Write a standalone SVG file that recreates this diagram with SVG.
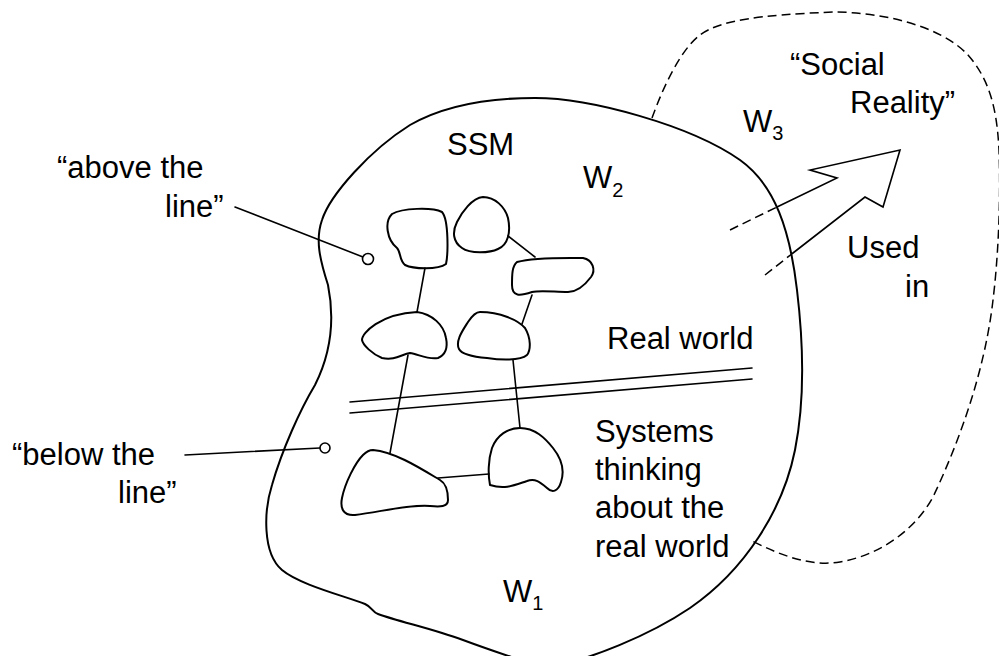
<svg xmlns="http://www.w3.org/2000/svg" width="999" height="656" viewBox="0 0 999 656">
<style>
.o{fill:none;stroke:#000;stroke-width:2;stroke-linejoin:round;stroke-linecap:round}
.c{fill:none;stroke:#000;stroke-width:1.6;stroke-linecap:round}
.d{fill:none;stroke:#000;stroke-width:1.5;stroke-dasharray:9 5}
.t{font-family:"Liberation Sans",Arial,sans-serif;font-size:31px;fill:#000}
.s{font-size:20px}
</style>
<rect width="999" height="656" fill="#fff"/>
<g id="social-reality">
<path class="d" d="M652,118 C662,90 680,50 700,35 C720,20 760,15 833,12 C880,12 940,25 968,55 C990,80 997,110 999,150 C1001,200 998,260 993,300 C985,370 960,440 933,497 C915,530 880,555 840,562 C810,567 780,555 750,540"/>
<text class="t" x="790" y="75">“Social</text>
<text class="t" x="850" y="113">Reality”</text>
<text class="t" x="743" y="132">W<tspan class="s" dy="8">3</tspan></text>
</g>
<g id="ssm">
<path class="o" d="M535,98 C590,98 690,125 740,160 C775,185 790,230 797,290 C803,340 805,400 795,450 C783,510 745,570 690,608 C650,635 590,660 545,668 C520,660 490,650 463,640 C430,628 400,622 378,614 C372,612 372,607 365,604 C345,596 300,585 282,570 C262,553 264,510 272,485 C282,450 300,410 315,385 C330,355 335,320 328,285 C320,260 315,240 322,220 C330,195 370,150 410,125 C445,105 490,98 535,98 Z"/>
<text class="t" x="447" y="155">SSM</text>
<text class="t" x="583" y="188">W<tspan class="s" dy="9">2</tspan></text>
<text class="t" x="503" y="602">W<tspan class="s" dy="8">1</tspan></text>
</g>
<g id="used-in">
<path class="c" d="M777,207 L837,178 L810,170 L900,150 L883,207 L865,197 L793,253" stroke-linejoin="miter"/>
<path class="d" stroke-dasharray="7 5" d="M730,230 L777,207 M765,275 L793,253"/>
<text class="t" x="847" y="258">Used</text>
<text class="t" x="905" y="297">in</text>
</g>
<g id="line-divider">
<path class="c" d="M350,402 L752,368 M350,413 L752,379"/>
<text class="t" x="607" y="349">Real world</text>
<text class="t" x="595" y="442">Systems</text>
<text class="t" x="595" y="480">thinking</text>
<text class="t" x="595" y="518">about the</text>
<text class="t" x="595" y="557">real world</text>
</g>
<g id="connectors">
<path class="c" d="M508,236 L535,257 M532,295 L522,324 M425,268 L417,312 M408,355 L390,453 M513,360 L520,428 M438,478 L489,474"/>
</g>
<g id="blob-a"><path class="o" d="M392,214 C402,208 432,207 442,212 C449,220 448,255 446,264 C438,270 413,269 405,265 C399,260 401,252 397,248 C387,240 384,222 392,214 Z"/></g>
<g id="blob-b"><path class="o" d="M457,222 C462,212 472,198 483,197 C495,197 505,207 508,218 C511,232 508,245 498,249 C490,253 470,254 462,248 C453,242 452,232 457,222 Z"/></g>
<g id="blob-c"><path class="o" d="M517,262 C535,257 570,258 583,258 C593,260 596,270 591,277 C585,285 578,292 568,292 C555,292 540,290 532,292 C520,296 512,297 512,285 C512,275 512,266 517,262 Z"/></g>
<g id="blob-e"><path class="o" d="M417,312 C432,314 444,325 446,338 C448,348 445,355 438,358 C428,360 418,354 410,353 C402,354 395,361 382,358 C372,354 363,345 362,340 C362,333 380,314 417,312 Z"/></g>
<g id="blob-f"><path class="o" d="M480,312 C500,312 518,320 525,328 C531,338 531,350 527,355 C520,361 500,360 487,358 C475,357 462,355 459,349 C455,341 463,330 468,322 C472,316 476,312 480,312 Z"/></g>
<g id="blob-g"><path class="o" d="M373,450 C395,452 420,468 440,480 C447,484 448,492 448,500 C448,507 440,507 430,506 C410,504 380,512 355,515 C343,516 340,508 342,498 C345,483 355,463 363,455 C366,452 370,450 373,450 Z"/></g>
<g id="blob-h"><path class="o" d="M520,428 C535,428 545,438 553,448 C561,458 565,470 561,482 C558,492 552,493 547,488 C540,482 535,478 527,481 C515,485 505,490 490,485 C488,475 488,460 492,448 C497,435 508,428 520,428 Z"/></g>
<g id="above-the-line">
<path class="c" d="M235,207 L363,257"/>
<circle cx="368" cy="259" r="5.5" fill="#fff" stroke="#000" stroke-width="1.6"/>
<text class="t" x="57" y="178">“above the</text>
<text class="t" x="165" y="217">line”</text>
</g>
<g id="below-the-line">
<path class="c" d="M185,455 L320,448"/>
<circle cx="325" cy="448" r="5" fill="#fff" stroke="#000" stroke-width="1.6"/>
<text class="t" x="12" y="465">“below the</text>
<text class="t" x="118" y="503">line”</text>
</g>
</svg>
